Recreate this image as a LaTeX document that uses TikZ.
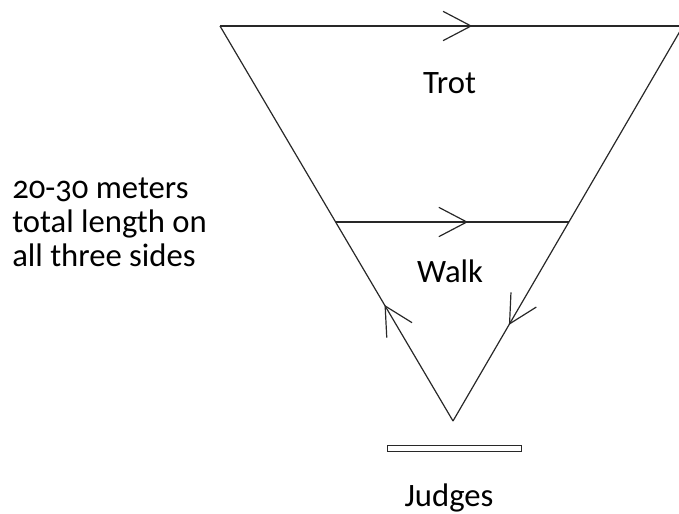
\documentclass[tikz,border=0pt]{standalone}
\usepackage{fontspec}
\setmainfont{Carlito}[Numbers=OldStyle]
\usetikzlibrary{arrows.meta,decorations.markings}

\tikzset{
  side/.style={draw={rgb,255:red,40;green,40;blue,40}, line width=0.9pt},
  midarrow/.style={postaction={decorate, decoration={markings,
      mark=at position #1 with {\arrow{Straight Barb[length=21pt,width=22pt,line width=0.9pt]}}}}},
  label/.style={font=\fontsize{24.5}{25.5}\selectfont, inner sep=0pt},
}

\begin{document}
\begin{tikzpicture}[x=0.75pt,y=0.75pt,yscale=-1,xscale=1]
\useasboundingbox (0,0) rectangle (679,514);

% Corners
\coordinate (tl) at (220,26);
\coordinate (tr) at (683,26);
\coordinate (apex) at (453,421);
\coordinate (wl) at (336,222);
\coordinate (wr) at (569,222);

%Straight Lines
\draw [side, midarrow=0.545] (tl) -- (tr) ;
%Straight Lines
\draw [side, midarrow=0.567] (wl) -- (wr) ;
%Straight Lines
\draw [side, midarrow=0.294] (apex) -- (tl) ;
%Straight Lines
\draw [side, midarrow=0.757] (tr) -- (apex) ;

% Judges table
\node (table) [draw={rgb,255:red,40;green,40;blue,40}, line width=0.8pt, minimum width=101pt, minimum height=4pt, inner sep=0pt] at (454.5,448.5) {};

% Text Node
\node (trot) [label, anchor=base] at (449.5,93) {Trot};
% Text Node
\node (walk) [label, anchor=base] at (450,282) {Walk};
% Text Node
\node (judges) [label, anchor=base] at (449,506) {Judges};
% Text Node
\node (length) [label, anchor=west, align=left] at (12,222) {20-30 meters\\total length on\\all three sides};

\end{tikzpicture}
\end{document}
